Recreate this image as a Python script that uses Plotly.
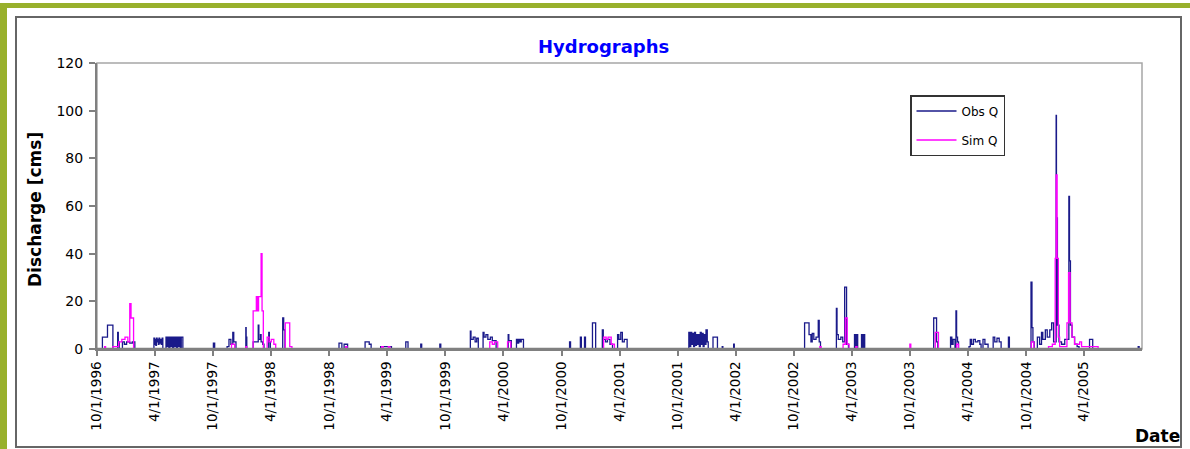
import plotly.graph_objects as go

# Observed discharge (cms): value holds from each date until the next entry
obs_dates = [
    "1996-10-01", "1996-10-18", "1996-11-03", "1996-11-20",
    "1996-12-05", "1996-12-07", "1996-12-10",
    "1996-12-20", "1996-12-26", "1997-01-02", "1997-01-12", "1997-01-20", "1997-01-28",
    "1997-03-29", "1997-03-31", "1997-04-02", "1997-04-04", "1997-04-06", "1997-04-08",
    "1997-04-10", "1997-04-12", "1997-04-14", "1997-04-16", "1997-04-18", "1997-04-21",
    "1997-04-24", "1997-04-26",
    "1997-05-06", "1997-05-09", "1997-05-12", "1997-05-15", "1997-05-18", "1997-05-21",
    "1997-05-24", "1997-05-27", "1997-05-30", "1997-06-02", "1997-06-05", "1997-06-08",
    "1997-06-11", "1997-06-14", "1997-06-17", "1997-06-20", "1997-06-23", "1997-06-28",
    # WY 1998
    "1997-10-02", "1997-10-06",
    "1997-11-14", "1997-11-20", "1997-11-26", "1997-12-02", "1997-12-05", "1997-12-12",
    "1998-01-12", "1998-01-13", "1998-01-15",
    "1998-02-04", "1998-02-20", "1998-02-22", "1998-02-27", "1998-03-01", "1998-03-06", "1998-03-10",
    "1998-03-25", "1998-03-27", "1998-03-30",
    "1998-05-08", "1998-05-11", "1998-05-15",
    # WY 1999
    "1998-11-01", "1998-11-10", "1998-11-17", "1998-11-28",
    "1999-01-22", "1999-02-04", "1999-02-10",
    "1999-03-12", "1999-04-15",
    "1999-05-30", "1999-06-06",
    "1999-07-16", "1999-07-19",
    "1999-09-14", "1999-09-17",
    # WY 2000
    "1999-12-19", "1999-12-21", "1999-12-28", "2000-01-03", "2000-01-08", "2000-01-13",
    "2000-01-28", "2000-01-31", "2000-02-06", "2000-02-12", "2000-02-20", "2000-02-26", "2000-03-09",
    "2000-04-16", "2000-04-18", "2000-04-26",
    "2000-05-12", "2000-05-16", "2000-05-19", "2000-05-23", "2000-05-27", "2000-06-03",
    # WY 2001
    "2000-10-26", "2000-10-29",
    "2000-11-29", "2000-12-02", "2000-12-12", "2000-12-15",
    "2001-01-06", "2001-01-16",
    "2001-02-06", "2001-02-09", "2001-02-16", "2001-02-22", "2001-03-02", "2001-03-10",
    "2001-03-26", "2001-03-30", "2001-04-05", "2001-04-10", "2001-04-16", "2001-04-25",
    # WY 2002
    "2001-11-05", "2001-11-08", "2001-11-11", "2001-11-14", "2001-11-17", "2001-11-20",
    "2001-11-23", "2001-11-26", "2001-11-29", "2001-12-02", "2001-12-05", "2001-12-08",
    "2001-12-11", "2001-12-14", "2001-12-17", "2001-12-20", "2001-12-23", "2001-12-26",
    "2001-12-29", "2002-01-02", "2002-01-05",
    "2002-01-20", "2002-02-03",
    "2002-02-18", "2002-02-20",
    "2002-03-26", "2002-03-28",
    # WY 2003
    "2002-11-04", "2002-11-18", "2002-11-24", "2002-11-28", "2002-12-03", "2002-12-10",
    "2002-12-17", "2002-12-20", "2002-12-24",
    "2003-02-12", "2003-02-14", "2003-02-18", "2003-02-26", "2003-03-04", "2003-03-10",
    "2003-03-16", "2003-03-22",
    "2003-04-10", "2003-04-13", "2003-04-17", "2003-04-20",
    "2003-05-02", "2003-05-05", "2003-05-09", "2003-05-12",
    # WY 2004
    "2003-12-15", "2003-12-24", "2003-12-28",
    "2004-02-06", "2004-02-10", "2004-02-14", "2004-02-20",
    "2004-02-23", "2004-02-25", "2004-02-28", "2004-03-02",
    "2004-04-04", "2004-04-08", "2004-04-12", "2004-04-18", "2004-04-24", "2004-05-02",
    "2004-05-08", "2004-05-12",
    "2004-05-18", "2004-05-24", "2004-06-03",
    "2004-06-19", "2004-06-24", "2004-07-01", "2004-07-08", "2004-07-14",
    "2004-08-06", "2004-08-09",
    # WY 2005
    "2004-10-16", "2004-10-19", "2004-10-22", "2004-10-26",
    "2004-11-05", "2004-11-12", "2004-11-18", "2004-11-22", "2004-11-30", "2004-12-06",
    "2004-12-14", "2004-12-20", "2004-12-26",
    "2005-01-03", "2005-01-04", "2005-01-07", "2005-01-12", "2005-01-20", "2005-01-30",
    "2005-02-12", "2005-02-14", "2005-02-17", "2005-02-22", "2005-03-02", "2005-03-10", "2005-03-16",
    "2005-04-18", "2005-04-28",
    "2005-09-18", "2005-09-21",
]
obs_q = [
    0, 5, 10, 0,
    7, 3, 0,
    3, 2, 3, 2.5, 3, 0,
    4.5, 2, 4, 1.5, 4.5, 3,
    4, 2, 4.5, 2.5, 4, 2,
    4.5, 0,
    5, 1, 5, 0.5, 5, 1,
    5, 0.5, 5, 1, 5, 0.5,
    5, 1, 5, 0.5, 5, 0,
    # WY 1998
    2.5, 0,
    1, 4, 2, 7, 3, 0,
    9, 5, 0,
    3, 10, 4, 6, 3, 2, 0,
    7, 3, 0,
    13, 8, 0,
    # WY 1999
    2.5, 0, 2, 0,
    3, 2, 0,
    1, 0,
    3, 0,
    2, 0,
    2, 0,
    # WY 2000
    7.5, 4, 5, 3, 4.5, 0,
    7, 5, 6, 4, 5, 3.5, 0,
    6, 3.5, 0,
    4, 2.5, 4, 3, 4, 0,
    # WY 2001
    3, 0,
    5, 0, 5, 0,
    11, 0,
    8, 4, 3, 4, 2, 0,
    6, 4, 7, 3, 4, 0,
    # WY 2002
    7, 1, 7, 2, 6.5, 1,
    7, 1.5, 6, 2, 6, 1,
    7, 2, 6.5, 1, 6, 2,
    8, 3, 0,
    5, 0,
    1, 0,
    2, 0,
    # WY 2003
    11, 6, 3, 6.5, 4, 5,
    12, 3, 0,
    17, 6, 4, 5, 3, 26,
    2, 0,
    6, 0, 6, 0,
    6, 0, 6, 0,
    # WY 2004
    13, 3, 0,
    5, 2, 4, 0,
    16, 5, 3, 0,
    1, 4, 2, 4, 3, 3.5,
    2, 0,
    4, 2, 0,
    5, 3, 4.5, 3, 0,
    5, 0,
    # WY 2005
    28, 9, 3, 0,
    5, 2, 7, 4, 8, 5,
    8, 11, 3,
    98, 55, 10, 3, 2, 4,
    64, 37, 10, 5, 2, 1, 0,
    4, 0,
    1, 0,
]

# Simulated discharge (cms)
sim_dates = [
    "1996-10-01", "1996-10-25", "1996-10-28", "1996-11-20", "1996-12-08", "1996-12-18",
    "1996-12-28", "1997-01-06", "1997-01-12", "1997-01-16", "1997-01-24",
    # WY 1998
    "1997-11-28", "1997-12-08", "1998-01-12", "1998-01-15",
    "1998-02-04", "1998-02-14", "1998-02-18", "1998-02-21", "1998-03-01", "1998-03-04", "1998-03-08",
    "1998-03-20", "1998-03-26", "1998-04-02", "1998-04-10", "1998-04-16",
    "1998-05-16", "1998-05-30", "1998-06-06",
    # WY 1999
    "1998-11-22", "1998-11-26", "1999-03-15", "1999-03-20", "1999-04-05", "1999-04-10",
    # WY 2000
    "2000-02-18", "2000-02-26", "2000-03-04", "2000-03-14", "2000-04-14", "2000-04-24",
    # WY 2001
    "2001-02-10", "2001-02-18", "2001-02-24", "2001-03-06", "2001-03-16",
    # WY 2003
    "2002-12-22", "2002-12-26", "2003-03-05", "2003-03-12", "2003-03-18", "2003-03-24",
    "2003-04-14", "2003-04-18",
    # WY 2004
    "2003-10-01", "2003-10-04", "2003-12-20", "2003-12-30", "2004-02-25", "2004-03-02",
    # WY 2005
    "2004-10-17", "2004-10-25", "2004-12-10", "2004-12-22", "2004-12-31", "2005-01-03",
    "2005-01-06", "2005-01-10", "2005-01-14", "2005-02-06", "2005-02-11", "2005-02-16",
    "2005-02-22", "2005-03-02", "2005-03-18", "2005-03-24", "2005-05-15",
]
sim_q = [
    0, 1, 0, 1, 3, 4,
    5, 3, 19, 13, 0,
    # WY 1998
    2, 0, 1, 0,
    16, 22, 16, 22, 40, 16, 0,
    5, 3, 4, 2, 0,
    11, 1, 0,
    # WY 1999
    1, 0, 1, 0, 1, 0,
    # WY 2000
    3, 2, 3, 0, 3, 0,
    # WY 2001
    5, 4, 5, 2, 0,
    # WY 2003
    1, 0, 2, 13, 2, 0,
    1, 0,
    # WY 2004
    2, 0, 7, 0, 2, 0,
    # WY 2005
    3, 0, 1, 2, 38, 73,
    38, 5, 1, 11, 32, 11,
    5, 2, 3, 1, 0,
]

tick_dates = [
    "1996-10-01", "1997-04-01", "1997-10-01", "1998-04-01", "1998-10-01", "1999-04-01",
    "1999-10-01", "2000-04-01", "2000-10-01", "2001-04-01", "2001-10-01", "2002-04-01",
    "2002-10-01", "2003-04-01", "2003-10-01", "2004-04-01", "2004-10-01", "2005-04-01",
]
tick_labels = [
    "10/1/1996", "4/1/1997", "10/1/1997", "4/1/1998", "10/1/1998", "4/1/1999",
    "10/1/1999", "4/1/2000", "10/1/2000", "4/1/2001", "10/1/2001", "4/1/2002",
    "10/1/2002", "4/1/2003", "10/1/2003", "4/1/2004", "10/1/2004", "4/1/2005",
]

X_START, X_END = "1996-10-01", "2005-09-30"

W, H = 1190, 449
L, R, T, B = 97, 1142, 63, 349   # plot area edges in pixels


def px(x):
    return (x - L) / (R - L)


def py(y):
    return (B - y) / (B - T)


FONT = "DejaVu Sans, Verdana, Arial, sans-serif"
AXIS_GREY = "#808080"

fig = go.Figure()
fig.add_trace(go.Scatter(
    x=obs_dates, y=obs_q, mode="lines", name="Obs Q", legendgroup="obs",
    line=dict(color="#1a1a8a", width=1.3, shape="hv"),
))
fig.add_trace(go.Scatter(
    x=sim_dates, y=sim_q, mode="lines", name="Sim Q", legendgroup="sim",
    line=dict(color="#ff00ff", width=1.3, shape="hv"),
))

fig.update_layout(
    width=W, height=H,
    margin=dict(l=L, r=W - R, t=T, b=H - B, autoexpand=False),
    paper_bgcolor="white", plot_bgcolor="white",
    font=dict(family=FONT, size=13, color="#000000"),
    showlegend=True,
    legend=dict(
        x=px(910), y=py(95), xanchor="left", yanchor="top",
        bgcolor="white", bordercolor="#333333", borderwidth=1.5,
        font=dict(family=FONT, size=12, color="#000000"),
        tracegroupgap=10, itemwidth=40,
    ),
    xaxis=dict(
        type="date", range=[X_START, X_END],
        tickmode="array", tickvals=tick_dates, ticktext=tick_labels,
        tickangle=-90, ticks="outside", ticklen=5, tickwidth=1.5, tickcolor=AXIS_GREY,
        showline=True, linecolor=AXIS_GREY, linewidth=2,
        showgrid=False, zeroline=False, layer="above traces",
        tickfont=dict(family=FONT, size=13.5, color="#000000"),
    ),
    yaxis=dict(
        range=[0, 120], dtick=20, tick0=0,
        ticks="outside", ticklen=6, tickwidth=1.5, tickcolor=AXIS_GREY,
        showline=True, linecolor=AXIS_GREY, linewidth=2,
        showgrid=False, zeroline=False, layer="above traces",
        tickfont=dict(family=FONT, size=14, color="#000000"),
        ticklabelstandoff=3,
    ),
    shapes=[
        # green frame
        dict(type="rect", xref="paper", yref="paper", layer="below",
             x0=px(0), x1=px(W), y0=py(3), y1=py(8),
             fillcolor="#98b02c", line=dict(width=0)),
        dict(type="rect", xref="paper", yref="paper", layer="below",
             x0=px(0), x1=px(7), y0=py(3), y1=py(H),
             fillcolor="#98b02c", line=dict(width=0)),
        # chart area border
        dict(type="rect", xref="paper", yref="paper", layer="below",
             x0=px(16), x1=px(1181), y0=py(17), y1=py(447),
             line=dict(color="#666666", width=2)),
        # plot area border
        dict(type="rect", xref="paper", yref="paper", layer="below",
             x0=0, x1=1, y0=0, y1=1,
             line=dict(color="#a6a6a6", width=1.5)),
        # category axis drawn over the zero-flow stretches of both series
        dict(type="line", xref="x", yref="y", layer="above",
             x0=X_START, x1=X_END, y0=0, y1=0,
             line=dict(color=AXIS_GREY, width=2.5)),
    ],
    annotations=[
        dict(text="<b>Hydrographs</b>", xref="paper", yref="paper",
             x=px(603), y=py(47), xanchor="center", yanchor="middle", showarrow=False,
             font=dict(family=FONT, size=18, color="#0000ff")),
        dict(text="<b>Discharge [cms]</b>", xref="paper", yref="paper",
             x=px(35), y=py(210), xanchor="center", yanchor="middle", showarrow=False,
             textangle=-90, font=dict(family=FONT, size=17, color="#000000")),
        dict(text="<b>Date</b>", xref="paper", yref="paper",
             x=px(1157), y=py(436), xanchor="center", yanchor="middle", showarrow=False,
             font=dict(family=FONT, size=17, color="#000000")),
    ],
)

fig.write_html("out.html")
